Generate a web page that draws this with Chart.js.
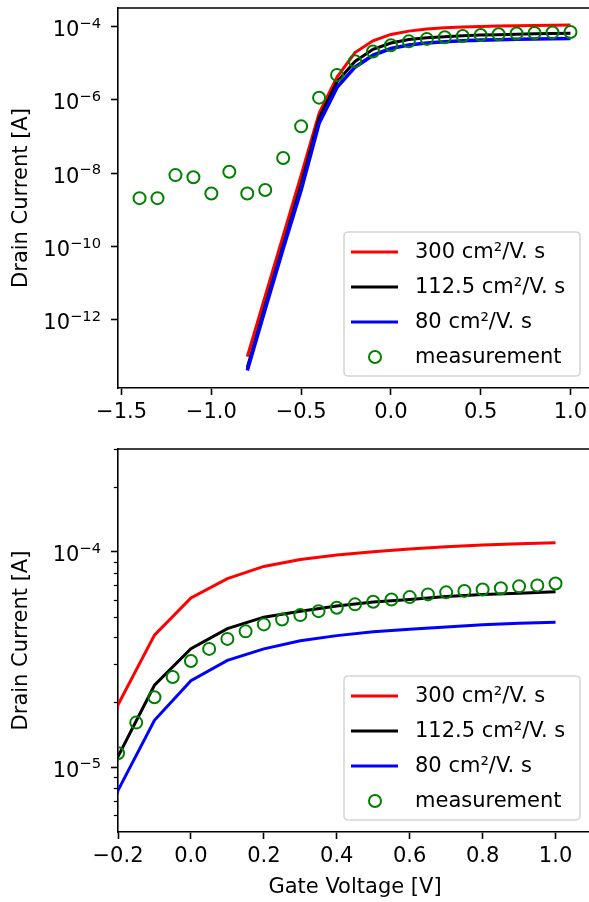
<!DOCTYPE html>
<html>
<head>
<meta charset="utf-8">
<script src="https://cdn.jsdelivr.net/npm/chart.js@4.4.1/dist/chart.umd.min.js"></script>
<style>
html, body { margin: 0; padding: 0; background: #fff; overflow: hidden; }
#wrap { position: relative; width: 589px; height: 902px; overflow: hidden; }
canvas { position: absolute; left: 0; }
#transfer-log { top: 0; }
#transfer-on { top: 440px; }
</style>
</head>
<body>
<div id="wrap">
<canvas id="transfer-log" width="600" height="440"></canvas>
<canvas id="transfer-on" width="600" height="462"></canvas>
</div>
<script>
// Simulated drain current for three mobilities against one measured device.
// Same model curves feed both panels; the lower panel just zooms in on the
// on-state, where the measurement was taken on a finer 50 mV grid.

const modelV = [-0.8, -0.7, -0.6, -0.5, -0.4, -0.3, -0.2, -0.1, 0.0, 0.1,
                0.2, 0.3, 0.4, 0.5, 0.6, 0.7, 0.8, 0.9, 1.0];
const mu300 = [1.0e-13, 4.5e-12, 2.0e-10, 8.9e-9, 4.3e-7, 4.2e-6, 1.95e-5, 4.1e-5, 6.1e-5, 7.5e-5,
               8.55e-5, 9.2e-5, 9.65e-5, 1.0e-4, 1.03e-4, 1.055e-4, 1.075e-4, 1.09e-4, 1.10e-4];
const mu112 = [5.0e-14, 2.5e-12, 1.1e-10, 5.0e-9, 3.2e-7, 3.1e-6, 1.12e-5, 2.4e-5, 3.55e-5, 4.4e-5,
               4.97e-5, 5.3e-5, 5.6e-5, 5.84e-5, 6.0e-5, 6.2e-5, 6.33e-5, 6.42e-5, 6.53e-5];
const mu80 = [4.2e-14, 2.0e-12, 8.9e-11, 3.5e-9, 2.3e-7, 2.2e-6, 7.8e-6, 1.65e-5, 2.52e-5, 3.13e-5,
              3.54e-5, 3.86e-5, 4.08e-5, 4.25e-5, 4.37e-5, 4.48e-5, 4.58e-5, 4.66e-5, 4.71e-5];

// measurement, full sweep (100 mV steps)
const measV = [-1.4, -1.3, -1.2, -1.1, -1.0, -0.9, -0.8, -0.7, -0.6, -0.5, -0.4, -0.3, -0.2,
               -0.1, 0.0, 0.1, 0.2, 0.3, 0.4, 0.5, 0.6, 0.7, 0.8, 0.9, 1.0];
const measI = [2.1e-9, 2.1e-9, 8.9e-9, 7.8e-9, 2.8e-9, 1.1e-8, 2.8e-9, 3.5e-9, 2.6e-8, 1.9e-7,
               1.15e-6, 4.8e-6, 1.14e-5, 2.09e-5, 3.1e-5, 3.94e-5, 4.6e-5, 5.08e-5, 5.5e-5, 5.86e-5,
               6.16e-5, 6.48e-5, 6.68e-5, 6.91e-5, 7.12e-5];

// measurement, on-state (50 mV steps)
const measFineV = [-0.2, -0.15, -0.1, -0.05, 0.0, 0.05, 0.1, 0.15, 0.2, 0.25, 0.3, 0.35, 0.4,
                   0.45, 0.5, 0.55, 0.6, 0.65, 0.7, 0.75, 0.8, 0.85, 0.9, 0.95, 1.0];
const measFineI = [1.16e-5, 1.61e-5, 2.11e-5, 2.62e-5, 3.11e-5, 3.54e-5, 3.94e-5, 4.27e-5, 4.6e-5,
                   4.85e-5, 5.08e-5, 5.3e-5, 5.5e-5, 5.7e-5, 5.86e-5, 6.0e-5, 6.16e-5, 6.34e-5,
                   6.48e-5, 6.58e-5, 6.68e-5, 6.77e-5, 6.91e-5, 6.98e-5, 7.12e-5];

const labels = ['300 cm\u00b2/V. s', '112.5 cm\u00b2/V. s', '80 cm\u00b2/V. s', 'measurement'];

const xTicksLog = [-1.5, -1.0, -0.5, 0.0, 0.5, 1.0];
const yTicksLog = [1e-12, 1e-10, 1e-8, 1e-6, 1e-4];
const xTicksOn = [-0.2, 0.0, 0.2, 0.4, 0.6, 0.8, 1.0];
const yTicksOn = [1e-5, 1e-4];
const yMinorOn = [6e-6, 7e-6, 8e-6, 9e-6, 2e-5, 3e-5, 4e-5, 5e-5, 6e-5, 7e-5, 8e-5, 9e-5, 2e-4, 3e-4];

const FONT = '"DejaVu Sans"';
Chart.defaults.font.family = FONT;
Chart.defaults.font.size = 21;
Chart.defaults.color = '#000';

function zip(xs, ys) {
    return xs.map(function(x, i) { return { x: x, y: ys[i] }; });
}

function voltLabel(v) {
    return (v < 0 ? '\u2212' : '') + Math.abs(v).toFixed(1);
}

// Chart.js reserves room for half a label at each end of an axis; the
// matplotlib axes don't, so the plot box is pinned by hand.
function pinX(height) {
    return function(s) {
        s.height = height;
        s.paddingLeft = 0; s.paddingRight = 0; s.paddingTop = 0; s.paddingBottom = 0;
    };
}

function pinY(s) {
    s.width = 118;
    s.paddingLeft = 0; s.paddingRight = 0; s.paddingTop = 0; s.paddingBottom = 0;
}

// top + right spines, minor log ticks, and the 10^n labels drawn with a
// proper raised exponent (unicode superscripts come out too small)
const framePlugin = {
    id: 'frame',
    afterDatasetsDraw: function(chart, args, opts) {
        const a = chart.chartArea;
        const ctx = chart.ctx;
        const y = chart.scales.y;
        ctx.save();
        ctx.strokeStyle = '#000';
        ctx.lineWidth = 1.6;
        ctx.beginPath();
        ctx.moveTo(a.left, a.top);
        ctx.lineTo(a.right, a.top);
        ctx.lineTo(a.right, a.bottom);
        ctx.stroke();

        ctx.lineWidth = 1.25;
        (opts.minorTicks || []).forEach(function(v) {
            const py = Math.round(y.getPixelForValue(v)) + 0.5;
            ctx.beginPath();
            ctx.moveTo(a.left - 4.2, py);
            ctx.lineTo(a.left, py);
            ctx.stroke();
        });

        ctx.fillStyle = '#000';
        ctx.textBaseline = 'alphabetic';
        ctx.textAlign = 'left';
        (opts.powerTicks || []).forEach(function(v) {
            const py = y.getPixelForValue(v);
            const exp = '\u2212' + String(Math.abs(Math.round(Math.log10(v))));
            ctx.font = '14.7px ' + FONT;
            const ew = ctx.measureText(exp).width;
            ctx.font = '21px ' + FONT;
            const bw = ctx.measureText('10').width;
            const right = a.left - 17;
            ctx.fillText('10', right - ew - bw, py + 9.5);
            ctx.font = '14.7px ' + FONT;
            ctx.fillText(exp, right - ew, py + 1);
        });
        ctx.restore();
    }
};

// matplotlib-style legend box in the lower right of the axes
const legendBoxPlugin = {
    id: 'legendBox',
    afterDraw: function(chart) {
        const a = chart.chartArea;
        const ctx = chart.ctx;
        const w = 236, h = 144;
        const x0 = a.right - 12 - w;
        const y0 = a.bottom - 12 - h;
        ctx.save();
        ctx.beginPath();
        ctx.roundRect(x0, y0, w, h, 4);
        ctx.fillStyle = 'rgba(255,255,255,0.8)';
        ctx.fill();
        ctx.strokeStyle = 'rgba(204,204,204,0.8)';
        ctx.lineWidth = 1.6;
        ctx.stroke();
        ctx.font = '21px ' + FONT;
        ctx.textBaseline = 'middle';
        chart.data.datasets.forEach(function(ds, i) {
            const ry = y0 + 20 + i * 35;
            if (ds.showLine) {
                ctx.strokeStyle = ds.borderColor;
                ctx.lineWidth = 3;
                ctx.beginPath();
                ctx.moveTo(x0 + 7, ry);
                ctx.lineTo(x0 + 54, ry);
                ctx.stroke();
            } else {
                ctx.strokeStyle = ds.pointBorderColor;
                ctx.lineWidth = 2;
                ctx.beginPath();
                ctx.arc(x0 + 31, ry, 6, 0, Math.PI * 2);
                ctx.stroke();
            }
            ctx.fillStyle = '#000';
            ctx.fillText(ds.label, x0 + 71, ry + 1);
        });
        ctx.restore();
    }
};

function lineSet(label, v, data, color, width, order) {
    return {
        label: label, data: zip(v, data), showLine: true, borderColor: color,
        backgroundColor: color, borderWidth: width, pointRadius: 0, tension: 0,
        clip: 0, order: order
    };
}

function buildChart(canvasId, o) {
    return new Chart(document.getElementById(canvasId), {
        type: 'scatter',
        data: {
            datasets: [
                lineSet(labels[0], modelV, mu300, '#ff0000', 3, 3),
                lineSet(labels[1], modelV, mu112, '#000000', 3, 2),
                lineSet(labels[2], modelV, mu80, '#0000ff', o.blueWidth, 1),
                {
                    label: labels[3], data: zip(o.measV, o.measI), showLine: false,
                    pointRadius: 6, pointBorderWidth: 2, pointBorderColor: '#008000',
                    pointBackgroundColor: 'rgba(0,0,0,0)', clip: 0, order: 0
                }
            ]
        },
        options: {
            responsive: false,
            animation: false,
            devicePixelRatio: 1,
            // canvas is 600 wide inside a 589 box: the right spine lands just
            // past the edge of the picture, as in the cropped original
            layout: { padding: o.padding },
            plugins: {
                legend: { display: false },
                tooltip: { enabled: false },
                frame: { minorTicks: o.yMinor, powerTicks: o.yTicks }
            },
            scales: {
                x: {
                    type: 'linear',
                    min: o.xMin,
                    max: o.xMax,
                    afterFit: pinX(o.xHeight),
                    afterBuildTicks: function(s) { s.ticks = o.xTicks.map(function(v) { return { value: v }; }); },
                    ticks: { callback: voltLabel, padding: 5, maxRotation: 0, autoSkip: false },
                    grid: { drawOnChartArea: false, tickLength: 7, tickWidth: 1.6, tickColor: '#000' },
                    border: { color: '#000', width: 1.6 },
                    title: { display: o.xTitle, text: 'Gate Voltage [V]', padding: { top: 0, bottom: 2 } }
                },
                y: {
                    type: 'logarithmic',
                    min: o.yMin,
                    max: o.yMax,
                    afterFit: pinY,
                    afterBuildTicks: function(s) { s.ticks = o.yTicks.map(function(v) { return { value: v, major: true }; }); },
                    ticks: { callback: function() { return ''; }, padding: 10, autoSkip: false },
                    grid: { drawOnChartArea: false, tickLength: 7, tickWidth: 1.6, tickColor: '#000' },
                    border: { color: '#000', width: 1.6 },
                    title: { display: true, text: 'Drain Current [A]', padding: { top: 9, bottom: 0 } }
                }
            }
        },
        plugins: [framePlugin, legendBoxPlugin]
    });
}

buildChart('transfer-log', {
    measV: measV, measI: measI, blueWidth: 3.6,
    xMin: -1.52, xMax: 1.12, xTicks: xTicksLog, xHeight: 52, xTitle: false,
    yMin: 1.4e-14, yMax: 3.2e-4, yTicks: yTicksLog, yMinor: [],
    padding: { top: 5, right: 7, left: 0, bottom: 0 }
});

buildChart('transfer-on', {
    measV: measFineV, measI: measFineI, blueWidth: 3,
    xMin: -0.2, xMax: 1.1, xTicks: xTicksOn, xHeight: 70, xTitle: true,
    yMin: 5e-6, yMax: 3e-4, yTicks: yTicksOn, yMinor: yMinorOn,
    padding: { top: 9, right: 7, left: 0, bottom: 0 }
});
</script>
</body>
</html>
